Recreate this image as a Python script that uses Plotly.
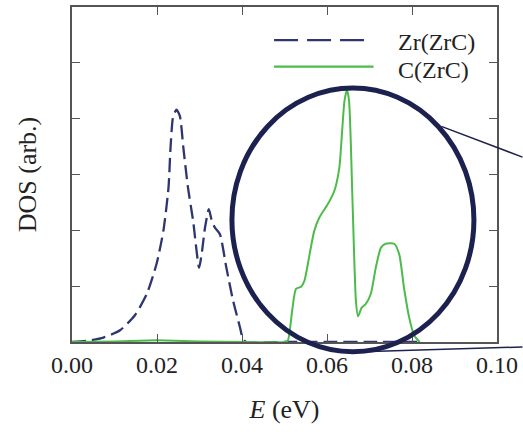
import plotly.graph_objects as go

# Zr(ZrC) partial DOS (dashed)
zr_E = [0.0, 0.0035, 0.0074, 0.0113, 0.0148, 0.0176, 0.0199, 0.0215, 0.0227, 0.0232,
        0.0238, 0.0246, 0.0254, 0.0262, 0.0273, 0.0285, 0.0299, 0.0305, 0.0313, 0.0322,
        0.0328, 0.0336, 0.0348, 0.0363, 0.0379, 0.0395, 0.0402, 0.0410, 0.0500, 0.0600,
        0.0700, 0.0820]
zr_dos = [0.0, 0.02, 0.08, 0.21, 0.48, 0.86, 1.40, 1.99, 2.76, 3.50,
          4.04, 4.16, 4.04, 3.48, 2.76, 2.17, 1.33, 1.57, 2.05, 2.38,
          2.20, 2.05, 1.93, 1.34, 0.74, 0.27, 0.06, 0.0, 0.0, 0.0,
          0.0, 0.0]

# C(ZrC) partial DOS (solid)
c_E = [0.0, 0.010, 0.020, 0.030, 0.040, 0.0500, 0.0508, 0.0518, 0.0527, 0.0539,
       0.0547, 0.0559, 0.0570, 0.0582, 0.0602, 0.0617, 0.0629, 0.0635, 0.0641, 0.0647,
       0.0652, 0.0660, 0.0668, 0.0673, 0.0682, 0.0691, 0.0703, 0.0715, 0.0727, 0.0738,
       0.0758, 0.0770, 0.0781, 0.0793, 0.0805, 0.0818]
c_dos = [0.0, 0.01, 0.03, 0.01, 0.0, 0.0, 0.03, 0.56, 0.95, 0.99,
         1.10, 1.57, 1.99, 2.23, 2.47, 2.70, 3.12, 3.71, 4.31, 4.52,
         4.31, 2.53, 0.74, 0.46, 0.62, 0.68, 0.86, 1.34, 1.69, 1.76,
         1.76, 1.57, 0.98, 0.45, 0.12, 0.0]

x_ticks = [0.00, 0.02, 0.04, 0.06, 0.08, 0.10]
x_tick_labels = ["0.00", "0.02", "0.04", "0.06", "0.08", "0.10"]
y_ticks = [0, 1, 2, 3, 4, 5, 6]

NAVY = "#2d3670"
GREEN = "#4cbb4a"
CIRCLE = "#1c2150"
FONT = "Liberation Serif"

fig = go.Figure()
fig.add_trace(go.Scatter(x=zr_E, y=zr_dos, mode="lines", name="Zr(ZrC)",
                         line=dict(color=NAVY, width=2.3, dash="14px,6px", shape="spline", smoothing=0.6)))
fig.add_trace(go.Scatter(x=c_E, y=c_dos, mode="lines", name="C(ZrC)",
                         line=dict(color=GREEN, width=2, shape="spline", smoothing=0.6)))

axis_common = dict(showline=True, linecolor="#555555", linewidth=1.5, mirror="allticks",
                   ticks="inside", ticklen=8, tickcolor="#555555", tickwidth=1.2,
                   showgrid=False, zeroline=False,
                   tickfont=dict(family=FONT, size=24, color="#222222"))

fig.update_layout(
    width=523, height=432,
    margin=dict(l=72, r=24, t=5, b=90),
    paper_bgcolor="white", plot_bgcolor="white",
    showlegend=False,
    font=dict(family=FONT, color="#222222", size=24),
    xaxis=dict(range=[0, 0.10], tickvals=x_ticks, ticktext=x_tick_labels,
               title=dict(text="<i>E</i> (eV)", font=dict(family=FONT, size=26), standoff=23),
               **axis_common),
    yaxis=dict(range=[0, 6], tickvals=y_ticks, showticklabels=False,
               title=dict(text="DOS (arb.)", font=dict(family=FONT, size=26), standoff=26),
               **axis_common),
)

# manual legend
fig.add_shape(type="line", xref="paper", yref="paper", x0=(275-72)/427, x1=(367-72)/427,
              y0=(341.7-38.3)/336.7, y1=(341.7-38.3)/336.7,
              line=dict(color=NAVY, width=2.3, dash="24px,9px"))
fig.add_shape(type="line", xref="paper", yref="paper", x0=(275-72)/427, x1=(375-72)/427,
              y0=(341.7-65)/336.7, y1=(341.7-65)/336.7,
              line=dict(color=GREEN, width=2.3))
fig.add_annotation(xref="paper", yref="paper", x=(398-72)/427, y=(341.7-40)/336.7,
                   text="Zr(ZrC)", showarrow=False, xanchor="left", yanchor="middle",
                   font=dict(family=FONT, size=24, color="#222222"))
fig.add_annotation(xref="paper", yref="paper", x=(398-72)/427, y=(341.7-68)/336.7,
                   text="C(ZrC)", showarrow=False, xanchor="left", yanchor="middle",
                   font=dict(family=FONT, size=24, color="#222222"))

# zoom ellipse and connector lines
fig.add_shape(type="circle", xref="paper", yref="paper",
              x0=0.3763, x1=0.9457, y0=-0.0291, y1=0.758,
              line=dict(color=CIRCLE, width=5))
fig.add_shape(type="line", xref="paper", yref="paper", x0=0.869, y0=0.6436, x1=1.06, y1=0.552,
              line=dict(color=CIRCLE, width=1.5))
fig.add_shape(type="line", xref="paper", yref="paper", x0=0.663, y0=-0.0297, x1=1.06, y1=-0.0149,
              line=dict(color=CIRCLE, width=1.5))

fig.write_html("out.html")
